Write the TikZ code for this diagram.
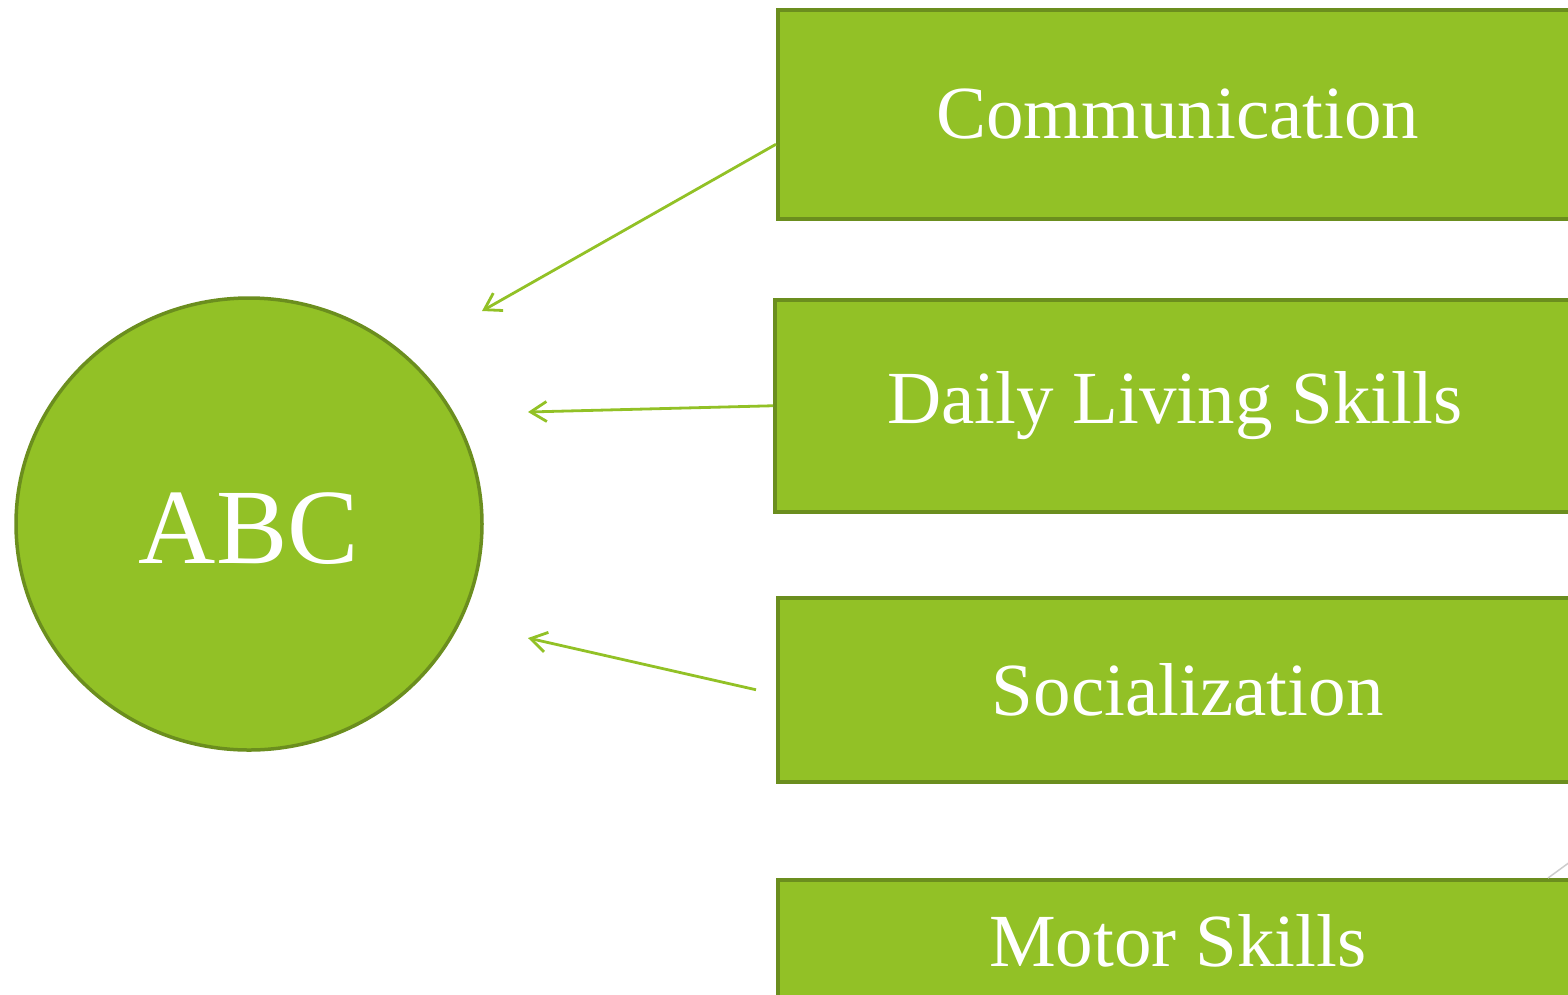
\documentclass[tikz,border=0pt]{standalone}
\usepackage{fontspec}
\setmainfont{Liberation Serif}
\usetikzlibrary{arrows.meta,shapes.geometric}
\definecolor{gfill}{HTML}{92C126}
\definecolor{gedge}{HTML}{6B8E1E}
\definecolor{garrow}{HTML}{92C126}
\tikzset{
  catbox/.style={rectangle, draw=gedge, fill=gfill, line width=3.5pt, text=white,
    minimum width=800pt, anchor=north west, inner sep=0pt,
    font=\fontsize{75}{80}\selectfont},
  hub/.style={ellipse, draw=gedge, fill=gfill, line width=3.5pt, text=white,
    minimum width=466pt, minimum height=452pt, inner sep=0pt,
    font=\fontsize{107}{110}\selectfont},
  link/.style={draw=garrow, line width=2.8pt, -{Straight Barb[length=16pt,width=20pt,line width=2.8pt]}},
}
\begin{document}
\begin{tikzpicture}[x=1pt,y=-1pt]
\useasboundingbox (0,0) rectangle (1568,994);
\begin{scope}
\clip (0,0) rectangle (1568,994);
\node[hub] (abc) at (249,524) {\raisebox{-5pt}[\height][\depth]{ABC}};
\node[catbox, minimum height=209pt] (c1) at (776,8) {Communication};
\node[catbox, minimum height=212pt] (c2) at (773,298) {Daily Living Skills};
\node[catbox, minimum height=184pt] (c3) at (776,596) {\hspace*{20pt}Socialization};
\node[catbox, minimum height=122pt] (c4) at (776,878) {Motor Skills};
\coordinate (t1) at (482,311);
\coordinate (t2) at (528,412);
\coordinate (t3) at (528,638);
\coordinate (g1) at (1600,840);
\draw[link] ([yshift=-30pt]c1.west) -- (t1);
\draw[link] (c2.west) -- (t2);
\draw[link] ([xshift=-20pt]c3.west) -- (t3);
\draw[draw=black!20, line width=1.5pt] ([xshift=772pt]c4.north west) -- (g1);
\end{scope}
\end{tikzpicture}
\end{document}
